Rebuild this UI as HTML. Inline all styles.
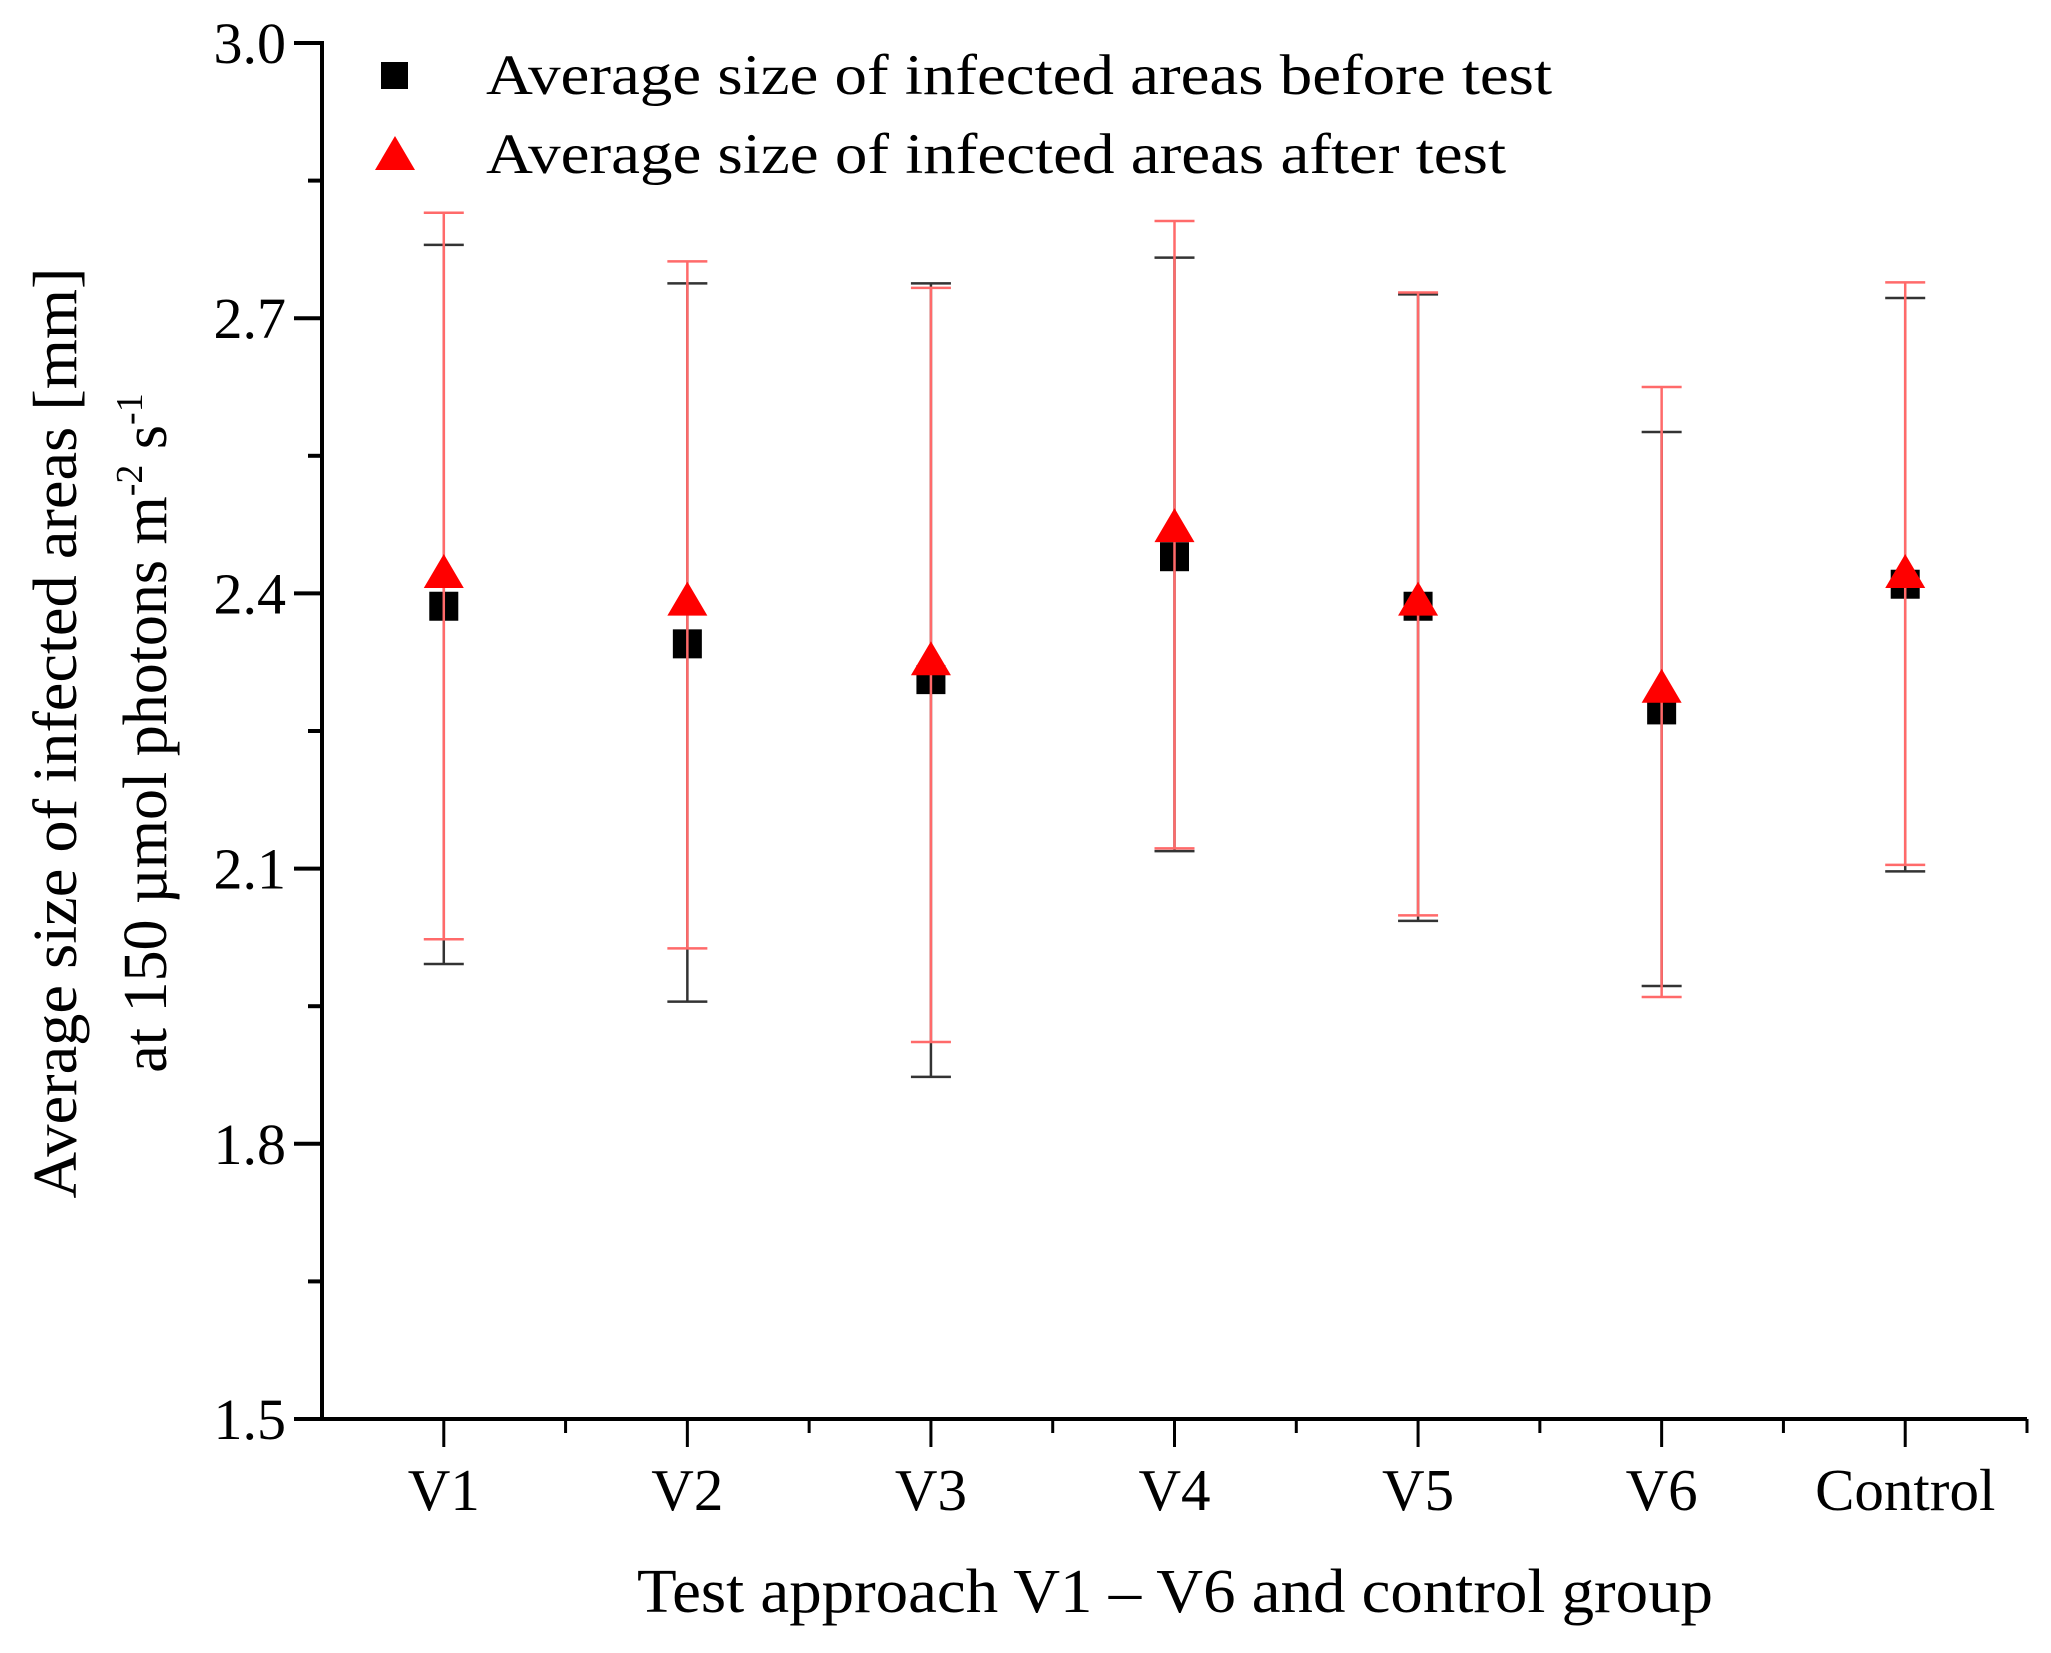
<!DOCTYPE html>
<html><head><meta charset="utf-8"><style>
html,body{margin:0;padding:0;background:#fff;}
svg{display:block;font-family:"Liberation Serif",serif;}
</style></head><body>
<svg id="chart" width="2051" height="1653" viewBox="0 0 2051 1653" xmlns="http://www.w3.org/2000/svg">
<g id="plot"></g>
<g>
  <rect x="381" y="62" width="27" height="27" fill="#000"/>
  <text x="486" y="94" font-size="57" textLength="1066" lengthAdjust="spacingAndGlyphs">Average size of infected areas before test</text>
  <polygon points="395,136 375,170 415,170" fill="#ff0000"/>
  <text x="486" y="173" font-size="57" textLength="1020" lengthAdjust="spacingAndGlyphs">Average size of infected areas after test</text>
</g>
<text x="1175" y="1612" font-size="62" text-anchor="middle" textLength="1076" lengthAdjust="spacingAndGlyphs">Test approach V1 – V6 and control group</text>
<g transform="translate(0,733) rotate(-90)">
  <text x="0" y="76" font-size="62" text-anchor="middle" textLength="931" lengthAdjust="spacingAndGlyphs">Average size of infected areas [mm]</text>
  <text x="0" y="166" font-size="62" text-anchor="middle">at 150 µmol photons m<tspan font-size="38" dy="-24">-2</tspan><tspan dy="24"> s</tspan><tspan font-size="38" dy="-24">-1</tspan></text>
</g>
</svg>
<script>
const categories = ["V1","V2","V3","V4","V5","V6","Control"];
const beforeMean = [2.386,2.345,2.306,2.44,2.386,2.273,2.41];
const beforeHigh = [2.78,2.738,2.738,2.766,2.726,2.576,2.722];
const beforeLow = [1.996,1.955,1.873,2.119,2.043,1.972,2.097];
const afterMean = [2.42,2.39,2.325,2.47,2.39,2.295,2.42];
const afterHigh = [2.815,2.762,2.733,2.806,2.728,2.625,2.739];
const afterLow = [2.023,2.013,1.911,2.122,2.049,1.96,2.104];
const yTicks = ["1.5","1.8","2.1","2.4","2.7","3.0"];

const NS="http://www.w3.org/2000/svg";
const X0=322, X1=2027, Y0=1419, Y1=43;
const xMin=0.5, xMax=7.5, yMin=1.5, yMax=3.0;
function xs(i){return X0+(i+1-xMin)/(xMax-xMin)*(X1-X0);}
function ys(v){return Y0-(v-yMin)/(yMax-yMin)*(Y0-Y1);}
const g=document.getElementById('plot');
function mk(tag,attrs){const e=document.createElementNS(NS,tag);for(const k in attrs)e.setAttribute(k,attrs[k]);g.appendChild(e);return e;}

let a=mk('line',{x1:X0,y1:Y1-2,x2:X0,y2:Y0+2,stroke:'#000','stroke-width':4});


a=mk('line',{x1:X0-2,y1:Y0,x2:X1,y2:Y0,stroke:'#000','stroke-width':4});



yTicks.forEach((t,i)=>{
  const y=ys(parseFloat(t));
  const l=mk('line',{x1:X0-28,y1:y,x2:X0,y2:y,stroke:'#000','stroke-width':4});
  
  
  const tx=mk('text',{x:X0-36,y:y+20,'font-size':58,'text-anchor':'end'});
  tx.textContent=t;
  
  
  if(i<yTicks.length-1){
    const ym=ys(parseFloat(t)+0.15);
    const m=mk('line',{x1:X0-14,y1:ym,x2:X0,y2:ym,stroke:'#000','stroke-width':4});
    
    
  }
});
for(let k=1;k<=14;k++){
  const xv=xMin+k*0.5, x=X0+(xv-xMin)/(xMax-xMin)*(X1-X0);
  const major=(k%2===1);
  const l=mk('line',{x1:x,y1:Y0,x2:x,y2:Y0+(major?28:14),stroke:'#000','stroke-width':3});
  
  
}
categories.forEach((c,i)=>{
  const tx=mk('text',{x:xs(i),y:1510,'font-size':59,'text-anchor':'middle'});
  tx.textContent=c;
  
  
});

function errbar(i,lo,hi,color,name){
  const x=xs(i);
  const grp=document.createElementNS(NS,'g');g.appendChild(grp);
  
  
  const segs=[[x,ys(lo),x,ys(hi)],[x-20,ys(lo),x+20,ys(lo)],[x-20,ys(hi),x+20,ys(hi)]];
  segs.forEach(s=>{const e=document.createElementNS(NS,'line');
    e.setAttribute('x1',s[0]);e.setAttribute('y1',s[1]);e.setAttribute('x2',s[2]);e.setAttribute('y2',s[3]);
    e.setAttribute('stroke',color);e.setAttribute('stroke-width',2.5);grp.appendChild(e);});
}
categories.forEach((c,i)=>{
  errbar(i,beforeLow[i],beforeHigh[i],'#333','error-bar-before-'+c.toLowerCase());
});
categories.forEach((c,i)=>{
  const s=mk('rect',{x:xs(i)-14.5,y:ys(beforeMean[i])-14.5,width:29,height:29,fill:'#000'});
  
  
});
categories.forEach((c,i)=>{
  errbar(i,afterLow[i],afterHigh[i],'#ff6a6a','error-bar-after-'+c.toLowerCase());
});
categories.forEach((c,i)=>{
  const x=xs(i), y=ys(afterMean[i]);
  const t=mk('polygon',{points:`${x},${y-21} ${x-20},${y+13} ${x+20},${y+13}`,fill:'#ff0000'});
  
  
});
</script>
</body></html>
